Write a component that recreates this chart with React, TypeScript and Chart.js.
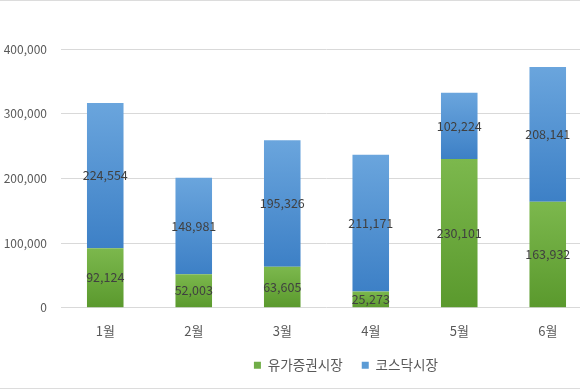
import React, { useEffect, useRef } from 'react';
import { Chart, registerables } from 'chart.js';

Chart.register(...registerables);

const months = ['1월', '2월', '3월', '4월', '5월', '6월'];
const kospi = [92124, 52003, 63605, 25273, 230101, 163932];
const kosdaq = [224554, 148981, 195326, 211171, 102224, 208141];
const seriesNames = ['유가증권시장', '코스닥시장'];
const legendColors = ['#70ad47', '#5b9bd5'];
const gradTop = ['#7cb84d', '#6aa5dd'];
const gradBottom = ['#5a992d', '#3d80c6'];

const FONT = "'Noto Sans CJK KR', 'Noto Sans', sans-serif";
const fmt = (v: number) => v.toLocaleString('en-US');

function segmentGradient(dsIndex: number) {
  return (ctx: any) => {
    const chart = ctx.chart;
    const y = chart.scales && chart.scales.y;
    if (!chart.chartArea || !y || ctx.type !== 'data') return legendColors[dsIndex];
    const datasets = chart.data.datasets;
    let base = 0;
    for (let i = 0; i < dsIndex; i++) base += datasets[i].data[ctx.dataIndex] as number;
    const val = datasets[dsIndex].data[ctx.dataIndex] as number;
    const yTop = y.getPixelForValue(base + val);
    const yBot = y.getPixelForValue(base);
    if (!isFinite(yTop) || !isFinite(yBot) || yTop === yBot) return legendColors[dsIndex];
    const g = chart.ctx.createLinearGradient(0, yTop, 0, yBot);
    g.addColorStop(0, gradTop[dsIndex]);
    g.addColorStop(1, gradBottom[dsIndex]);
    return g;
  };
}

const dataLabels = {
  id: 'dataLabels',
  afterDatasetsDraw(chart: any) {
    const ctx = chart.ctx;
    ctx.save();
    ctx.font = `12.5px ${FONT}`;
    ctx.fillStyle = '#404040';
    ctx.textAlign = 'center';
    ctx.textBaseline = 'middle';
    chart.data.datasets.forEach((ds: any, di: number) => {
      const meta = chart.getDatasetMeta(di);
      meta.data.forEach((el: any, i: number) => {
        const { x, y, base } = el.getProps(['x', 'y', 'base'], true);
        ctx.fillText(fmt(ds.data[i]), x, (y + base) / 2);
      });
    });
    ctx.restore();
  },
};

export default function App() {
  const ref = useRef<HTMLCanvasElement | null>(null);
  useEffect(() => {
    if (!ref.current) return;
    const chart = new Chart(ref.current, {
      type: 'bar',
      data: {
        labels: months,
        datasets: [
          { label: seriesNames[0], data: kospi, backgroundColor: segmentGradient(0), borderWidth: 0 },
          { label: seriesNames[1], data: kosdaq, backgroundColor: segmentGradient(1), borderWidth: 0 },
        ],
      },
      options: {
        responsive: false,
        animation: false,
        devicePixelRatio: 1,
        layout: { padding: { top: 49, bottom: 8, left: 0, right: 0 } },
        datasets: { bar: { categoryPercentage: 0.413, barPercentage: 1 } },
        plugins: {
          tooltip: { enabled: false },
          legend: {
            position: 'bottom',
            labels: {
              boxWidth: 7,
              boxHeight: 7,
              padding: 19,
              color: '#595959',
              font: { family: FONT, size: 13.6 },
              generateLabels: (chart: any) =>
                chart.data.datasets.map((ds: any, i: number) => ({
                  text: ds.label,
                  fillStyle: legendColors[i],
                  strokeStyle: legendColors[i],
                  lineWidth: 0,
                  datasetIndex: i,
                  hidden: false,
                  fontColor: '#595959',
                })),
            },
          },
        },
        scales: {
          x: {
            stacked: true,
            grid: { display: false },
            border: { display: false },
            ticks: { color: '#595959', font: { family: FONT, size: 13 }, padding: 7 },
            afterFit: (s: any) => { s.height = s.height - 6; },
          },
          y: {
            stacked: true,
            min: 0,
            max: 400000,
            grid: { color: '#d9d9d9', drawTicks: false },
            border: { display: false },
            ticks: {
              stepSize: 100000,
              padding: 14,
              color: '#595959',
              font: { family: FONT, size: 12 },
              callback: (v: any) => fmt(Number(v)),
            },
            afterFit: (s: any) => { s.width = 61; },
          },
          yPad: {
            type: 'linear',
            position: 'right',
            display: true,
            grid: { display: false },
            border: { display: false },
            ticks: { display: false },
            afterFit: (s: any) => { s.width = 100; },
          },
        },
      },
      plugins: [dataLabels],
    } as any);
    return () => chart.destroy();
  }, []);

  return (
    <div style={{ position: 'fixed', left: 0, top: 0, width: 580, height: 390, overflow: 'hidden', background: '#fff' }}>
      <canvas ref={ref} width={692} height={390} style={{ display: 'block' }} />
      <div style={{ position: 'absolute', left: 0, top: 0, width: 580, height: 1, background: '#dcdcdc' }} />
      <div style={{ position: 'absolute', left: 0, top: 388, width: 580, height: 1, background: '#dcdcdc' }} />
    </div>
  );
}
